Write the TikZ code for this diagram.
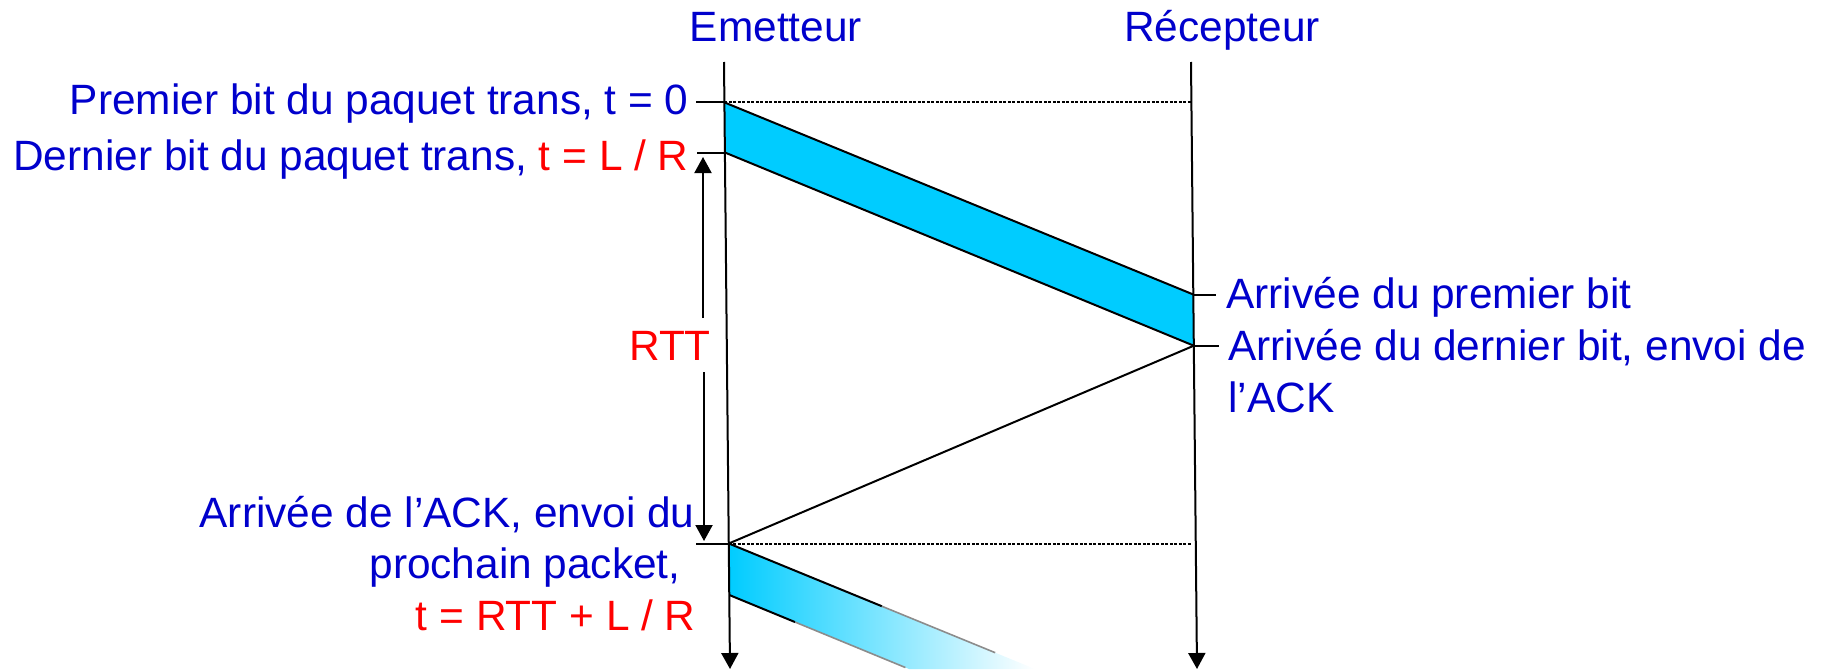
\documentclass[tikz,border=0pt]{standalone}
\usepackage{fontspec}
\setmainfont{Liberation Sans}
\usetikzlibrary{arrows.meta,calc}
\definecolor{txtblue}{RGB}{0,0,204}
\definecolor{pktcyan}{RGB}{0,204,255}
\begin{document}
\begin{tikzpicture}[x=0.5pt,y=-0.5pt,
  lbl/.style={inner sep=0pt, font=\fontsize{21.2pt}{25pt}\selectfont, text=txtblue},
  axis/.style={line width=1pt, -{Triangle[length=8pt,width=8.5pt]}},
  tick/.style={line width=1pt},
  edge/.style={line width=1pt},
  fadeedge/.style={line width=0.8pt, draw=black!45},
  guide/.style={line width=1pt, draw=black, dash pattern=on 1.5pt off 0.75pt},
  rttarrow/.style={line width=1pt, -{Triangle[length=8pt,width=8.5pt]}}
 ]
\useasboundingbox (0,0) rectangle (1825,669);
% key points
\coordinate (E0) at (724,62);
\coordinate (E1) at (730,669);
\coordinate (R0) at (1191,62);
\coordinate (R1) at (1197,669);
\coordinate (a1) at (724.4,102.4);
\coordinate (a2) at (724.9,152.5);
\coordinate (b1) at (1193.3,294.5);
\coordinate (b2) at (1193.8,345.7);
\coordinate (c1) at (728.8,543.5);
\coordinate (c2) at (729.3,595);
\coordinate (d1) at (1035,669);
\coordinate (d2) at (909,669);
\coordinate (g1) at (1191,102.4);
\coordinate (g2) at (1192,543.5);
% first packet
\fill[pktcyan] (a1) -- (b1) -- (b2) -- (a2) -- cycle;
% second packet (fading)
\shade[left color=pktcyan, right color=white] (c1) -- (d1) -- (d2) -- (c2) -- cycle;
% guide lines
\draw[guide] (a1) -- (g1);
\draw[guide] (c1) -- (g2);
% time axes
\draw[axis] (E0) -- (E1);
\draw[axis] (R0) -- (R1);
% packet edges
\draw[edge] (a1) -- (b1);
\draw[edge] (a2) -- (b2);
\draw[edge] (b2) -- (c1);
\draw[edge] (c1) -- ($(c1)!0.5!(d1)$);
\draw[fadeedge] ($(c1)!0.5!(d1)$) -- ($(c1)!0.87!(d1)$);
\draw[edge] (c2) -- ($(c2)!0.366!(d2)$);
\draw[fadeedge] ($(c2)!0.366!(d2)$) -- ($(c2)!0.98!(d2)$);
% ticks
\draw[tick] (a1) -- ++(-28,0);
\draw[tick] (a2) -- ++(-28,0);
\draw[tick] (c1) -- ++(-33,0);
\draw[tick] (b1) -- ++(23,0);
\draw[tick] (b2) -- ++(25,0);
% labels
\node[lbl, anchor=base] (emet) at (776,41) {Emetteur};
\node[lbl, anchor=base] (recep) at (1222,41) {Récepteur};
\node[lbl, anchor=base east] (premier) at (689,114) {Premier bit du paquet trans, t = 0};
\node[lbl, anchor=base east] (dernier) at (689,170) {Dernier bit du paquet trans, \textcolor{red}{t = L / R}};
\node[lbl, anchor=base west] (arr1) at (1226,308) {Arrivée du premier bit};
\node[lbl, anchor=base west] (arr2) at (1228,360) {Arrivée du dernier bit, envoi de};
\node[lbl, anchor=base west] (arr3) at (1228,412) {l’ACK};
\node[lbl, anchor=base east] (ack1) at (695,527) {Arrivée de l’ACK, envoi du};
\node[lbl, anchor=base east] (ack2) at (681,578) {prochain packet,};
\node[lbl, anchor=base east, text=red] (ack3) at (696,630) {t = RTT + L / R};
\node[lbl, anchor=base, text=red] (rtt) at (670,360) {RTT};
% RTT arrows
\coordinate (rttU) at (703,318);
\coordinate (rttUtip) at (703,157);
\coordinate (rttD) at (704,372);
\coordinate (rttDtip) at (704,541);
\draw[rttarrow] (rttU) -- (rttUtip);
\draw[rttarrow] (rttD) -- (rttDtip);
\end{tikzpicture}
\end{document}
